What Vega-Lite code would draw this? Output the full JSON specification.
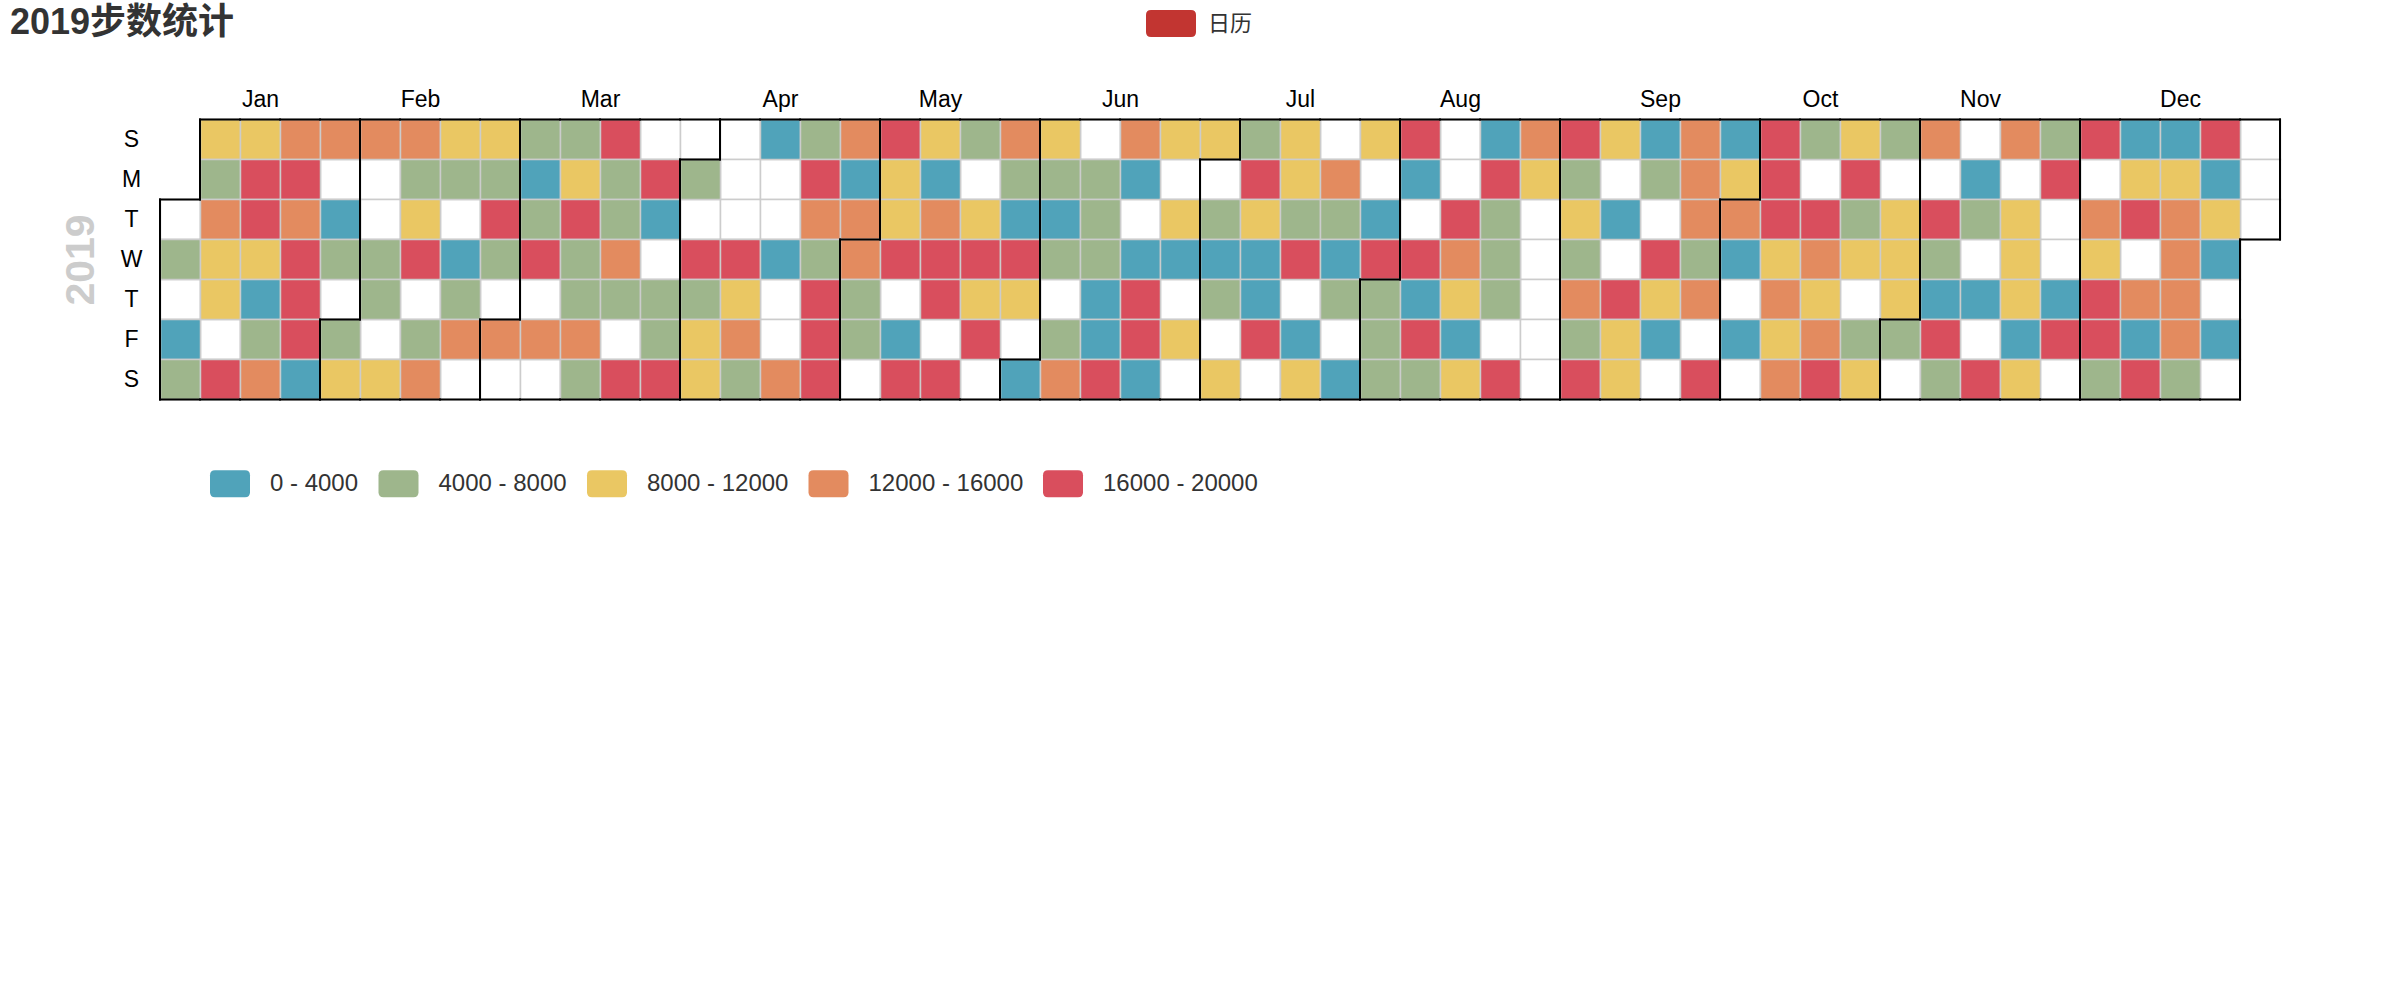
{
  "$schema": "https://vega.github.io/schema/vega-lite/v6.json",
  "autosize": {"type": "none"},
  "width": 2120,
  "height": 280,
  "padding": {"left": 160, "top": 119.5, "right": 120, "bottom": 600.5},
  "background": "white",
  "title": {
    "text": "2019步数统计",
    "anchor": "start",
    "frame": "group",
    "font": "Liberation Sans, Noto Sans CJK SC",
    "fontSize": 36,
    "fontWeight": "bold",
    "color": "#333",
    "dx": -150,
    "offset": 0,
    "dy": 43
  },
  "config": {"view": {"stroke": null}},
  "data": {
    "values": [
      {"date": "2019-01-01"}, {"date": "2019-01-02", "steps": 5420}, {"date": "2019-01-03"}, {"date": "2019-01-04", "steps": 2310}, {"date": "2019-01-05", "steps": 6880},
      {"date": "2019-01-06", "steps": 9340}, {"date": "2019-01-07", "steps": 4370}, {"date": "2019-01-08", "steps": 13250}, {"date": "2019-01-09", "steps": 10870}, {"date": "2019-01-10", "steps": 8460}, {"date": "2019-01-11"}, {"date": "2019-01-12", "steps": 17360},
      {"date": "2019-01-13", "steps": 11520}, {"date": "2019-01-14", "steps": 18920}, {"date": "2019-01-15", "steps": 16480}, {"date": "2019-01-16", "steps": 9910}, {"date": "2019-01-17", "steps": 1180}, {"date": "2019-01-18", "steps": 7510}, {"date": "2019-01-19", "steps": 14780},
      {"date": "2019-01-20", "steps": 12410}, {"date": "2019-01-21", "steps": 19540}, {"date": "2019-01-22", "steps": 15560}, {"date": "2019-01-23", "steps": 17810}, {"date": "2019-01-24", "steps": 16970}, {"date": "2019-01-25", "steps": 19130}, {"date": "2019-01-26", "steps": 3450},
      {"date": "2019-01-27", "steps": 13890}, {"date": "2019-01-28"}, {"date": "2019-01-29", "steps": 2760}, {"date": "2019-01-30", "steps": 6120}, {"date": "2019-01-31"},
      {"date": "2019-02-01", "steps": 4890}, {"date": "2019-02-02", "steps": 8830}, {"date": "2019-02-03", "steps": 12960}, {"date": "2019-02-04"}, {"date": "2019-02-05"}, {"date": "2019-02-06", "steps": 7240}, {"date": "2019-02-07", "steps": 5730},
      {"date": "2019-02-08"}, {"date": "2019-02-09", "steps": 11140}, {"date": "2019-02-10", "steps": 15120}, {"date": "2019-02-11", "steps": 5420}, {"date": "2019-02-12", "steps": 10260}, {"date": "2019-02-13", "steps": 18240}, {"date": "2019-02-14"},
      {"date": "2019-02-15", "steps": 6880}, {"date": "2019-02-16", "steps": 14330}, {"date": "2019-02-17", "steps": 9340}, {"date": "2019-02-18", "steps": 4370}, {"date": "2019-02-19"}, {"date": "2019-02-20", "steps": 640}, {"date": "2019-02-21", "steps": 7510},
      {"date": "2019-02-22", "steps": 13250}, {"date": "2019-02-23"}, {"date": "2019-02-24", "steps": 10870}, {"date": "2019-02-25", "steps": 6120}, {"date": "2019-02-26", "steps": 17360}, {"date": "2019-02-27", "steps": 4890}, {"date": "2019-02-28"},
      {"date": "2019-03-01", "steps": 14780}, {"date": "2019-03-02"}, {"date": "2019-03-03", "steps": 7240}, {"date": "2019-03-04", "steps": 3020}, {"date": "2019-03-05", "steps": 5730}, {"date": "2019-03-06", "steps": 18920}, {"date": "2019-03-07"},
      {"date": "2019-03-08", "steps": 12410}, {"date": "2019-03-09"}, {"date": "2019-03-10", "steps": 5420}, {"date": "2019-03-11", "steps": 8460}, {"date": "2019-03-12", "steps": 16480}, {"date": "2019-03-13", "steps": 6880}, {"date": "2019-03-14", "steps": 4370},
      {"date": "2019-03-15", "steps": 15560}, {"date": "2019-03-16", "steps": 7510}, {"date": "2019-03-17", "steps": 19540}, {"date": "2019-03-18", "steps": 6120}, {"date": "2019-03-19", "steps": 4890}, {"date": "2019-03-20", "steps": 13890}, {"date": "2019-03-21", "steps": 7240},
      {"date": "2019-03-22"}, {"date": "2019-03-23", "steps": 17810}, {"date": "2019-03-24"}, {"date": "2019-03-25", "steps": 16970}, {"date": "2019-03-26", "steps": 1870}, {"date": "2019-03-27"}, {"date": "2019-03-28", "steps": 5730},
      {"date": "2019-03-29", "steps": 5420}, {"date": "2019-03-30", "steps": 19130}, {"date": "2019-03-31"},
      {"date": "2019-04-01", "steps": 6880}, {"date": "2019-04-02"}, {"date": "2019-04-03", "steps": 18240}, {"date": "2019-04-04", "steps": 4370}, {"date": "2019-04-05", "steps": 11520}, {"date": "2019-04-06", "steps": 9910},
      {"date": "2019-04-07"}, {"date": "2019-04-08"}, {"date": "2019-04-09"}, {"date": "2019-04-10", "steps": 17360}, {"date": "2019-04-11", "steps": 8830}, {"date": "2019-04-12", "steps": 12960}, {"date": "2019-04-13", "steps": 7510},
      {"date": "2019-04-14", "steps": 3690}, {"date": "2019-04-15"}, {"date": "2019-04-16"}, {"date": "2019-04-17", "steps": 2310}, {"date": "2019-04-18"}, {"date": "2019-04-19"}, {"date": "2019-04-20", "steps": 15120},
      {"date": "2019-04-21", "steps": 6120}, {"date": "2019-04-22", "steps": 18920}, {"date": "2019-04-23", "steps": 14330}, {"date": "2019-04-24", "steps": 4890}, {"date": "2019-04-25", "steps": 16480}, {"date": "2019-04-26", "steps": 19540}, {"date": "2019-04-27", "steps": 17810},
      {"date": "2019-04-28", "steps": 13250}, {"date": "2019-04-29", "steps": 1180}, {"date": "2019-04-30", "steps": 14780},
      {"date": "2019-05-01", "steps": 12410}, {"date": "2019-05-02", "steps": 7240}, {"date": "2019-05-03", "steps": 5730}, {"date": "2019-05-04"},
      {"date": "2019-05-05", "steps": 16970}, {"date": "2019-05-06", "steps": 11140}, {"date": "2019-05-07", "steps": 10260}, {"date": "2019-05-08", "steps": 19130}, {"date": "2019-05-09"}, {"date": "2019-05-10", "steps": 3450}, {"date": "2019-05-11", "steps": 18240},
      {"date": "2019-05-12", "steps": 9340}, {"date": "2019-05-13", "steps": 2760}, {"date": "2019-05-14", "steps": 15560}, {"date": "2019-05-15", "steps": 17360}, {"date": "2019-05-16", "steps": 18920}, {"date": "2019-05-17"}, {"date": "2019-05-18", "steps": 16480},
      {"date": "2019-05-19", "steps": 5420}, {"date": "2019-05-20"}, {"date": "2019-05-21", "steps": 10870}, {"date": "2019-05-22", "steps": 19540}, {"date": "2019-05-23", "steps": 8460}, {"date": "2019-05-24", "steps": 17810}, {"date": "2019-05-25"},
      {"date": "2019-05-26", "steps": 13890}, {"date": "2019-05-27", "steps": 6880}, {"date": "2019-05-28", "steps": 640}, {"date": "2019-05-29", "steps": 16970}, {"date": "2019-05-30", "steps": 11520}, {"date": "2019-05-31"},
      {"date": "2019-06-01", "steps": 3020}, {"date": "2019-06-02", "steps": 9910}, {"date": "2019-06-03", "steps": 4370}, {"date": "2019-06-04", "steps": 1870}, {"date": "2019-06-05", "steps": 7510}, {"date": "2019-06-06"}, {"date": "2019-06-07", "steps": 6120},
      {"date": "2019-06-08", "steps": 12960}, {"date": "2019-06-09"}, {"date": "2019-06-10", "steps": 4890}, {"date": "2019-06-11", "steps": 7240}, {"date": "2019-06-12", "steps": 5730}, {"date": "2019-06-13", "steps": 3690}, {"date": "2019-06-14", "steps": 2310},
      {"date": "2019-06-15", "steps": 19130}, {"date": "2019-06-16", "steps": 15120}, {"date": "2019-06-17", "steps": 1180}, {"date": "2019-06-18"}, {"date": "2019-06-19", "steps": 3450}, {"date": "2019-06-20", "steps": 18240}, {"date": "2019-06-21", "steps": 17360},
      {"date": "2019-06-22", "steps": 2760}, {"date": "2019-06-23", "steps": 8830}, {"date": "2019-06-24"}, {"date": "2019-06-25", "steps": 11140}, {"date": "2019-06-26", "steps": 640}, {"date": "2019-06-27"}, {"date": "2019-06-28", "steps": 10260},
      {"date": "2019-06-29"}, {"date": "2019-06-30", "steps": 9340},
      {"date": "2019-07-01"}, {"date": "2019-07-02", "steps": 5420}, {"date": "2019-07-03", "steps": 3020}, {"date": "2019-07-04", "steps": 6880}, {"date": "2019-07-05"}, {"date": "2019-07-06", "steps": 10870},
      {"date": "2019-07-07", "steps": 4370}, {"date": "2019-07-08", "steps": 18920}, {"date": "2019-07-09", "steps": 8460}, {"date": "2019-07-10", "steps": 1870}, {"date": "2019-07-11", "steps": 3690}, {"date": "2019-07-12", "steps": 16480}, {"date": "2019-07-13"},
      {"date": "2019-07-14", "steps": 11520}, {"date": "2019-07-15", "steps": 9910}, {"date": "2019-07-16", "steps": 7510}, {"date": "2019-07-17", "steps": 19540}, {"date": "2019-07-18"}, {"date": "2019-07-19", "steps": 2310}, {"date": "2019-07-20", "steps": 8830},
      {"date": "2019-07-21"}, {"date": "2019-07-22", "steps": 14330}, {"date": "2019-07-23", "steps": 6120}, {"date": "2019-07-24", "steps": 1180}, {"date": "2019-07-25", "steps": 4890}, {"date": "2019-07-26"}, {"date": "2019-07-27", "steps": 3450},
      {"date": "2019-07-28", "steps": 11140}, {"date": "2019-07-29"}, {"date": "2019-07-30", "steps": 2760}, {"date": "2019-07-31", "steps": 17810},
      {"date": "2019-08-01", "steps": 7240}, {"date": "2019-08-02", "steps": 5730}, {"date": "2019-08-03", "steps": 5420},
      {"date": "2019-08-04", "steps": 16970}, {"date": "2019-08-05", "steps": 640}, {"date": "2019-08-06"}, {"date": "2019-08-07", "steps": 19130}, {"date": "2019-08-08", "steps": 3020}, {"date": "2019-08-09", "steps": 18240}, {"date": "2019-08-10", "steps": 6880},
      {"date": "2019-08-11"}, {"date": "2019-08-12"}, {"date": "2019-08-13", "steps": 17360}, {"date": "2019-08-14", "steps": 13250}, {"date": "2019-08-15", "steps": 10260}, {"date": "2019-08-16", "steps": 1870}, {"date": "2019-08-17", "steps": 9340},
      {"date": "2019-08-18", "steps": 3690}, {"date": "2019-08-19", "steps": 18920}, {"date": "2019-08-20", "steps": 4370}, {"date": "2019-08-21", "steps": 7510}, {"date": "2019-08-22", "steps": 6120}, {"date": "2019-08-23"}, {"date": "2019-08-24", "steps": 16480},
      {"date": "2019-08-25", "steps": 14780}, {"date": "2019-08-26", "steps": 10870}, {"date": "2019-08-27"}, {"date": "2019-08-28"}, {"date": "2019-08-29"}, {"date": "2019-08-30"}, {"date": "2019-08-31"},
      {"date": "2019-09-01", "steps": 19540}, {"date": "2019-09-02", "steps": 4890}, {"date": "2019-09-03", "steps": 8460}, {"date": "2019-09-04", "steps": 7240}, {"date": "2019-09-05", "steps": 12410}, {"date": "2019-09-06", "steps": 5730}, {"date": "2019-09-07", "steps": 17810},
      {"date": "2019-09-08", "steps": 11520}, {"date": "2019-09-09"}, {"date": "2019-09-10", "steps": 2310}, {"date": "2019-09-11"}, {"date": "2019-09-12", "steps": 16970}, {"date": "2019-09-13", "steps": 9910}, {"date": "2019-09-14", "steps": 8830},
      {"date": "2019-09-15", "steps": 1180}, {"date": "2019-09-16", "steps": 5420}, {"date": "2019-09-17"}, {"date": "2019-09-18", "steps": 19130}, {"date": "2019-09-19", "steps": 11140}, {"date": "2019-09-20", "steps": 3450}, {"date": "2019-09-21"},
      {"date": "2019-09-22", "steps": 15560}, {"date": "2019-09-23", "steps": 13890}, {"date": "2019-09-24", "steps": 12960}, {"date": "2019-09-25", "steps": 6880}, {"date": "2019-09-26", "steps": 15120}, {"date": "2019-09-27"}, {"date": "2019-09-28", "steps": 18240},
      {"date": "2019-09-29", "steps": 2760}, {"date": "2019-09-30", "steps": 10260},
      {"date": "2019-10-01", "steps": 14330}, {"date": "2019-10-02", "steps": 640}, {"date": "2019-10-03"}, {"date": "2019-10-04", "steps": 3020}, {"date": "2019-10-05"},
      {"date": "2019-10-06", "steps": 17360}, {"date": "2019-10-07", "steps": 18920}, {"date": "2019-10-08", "steps": 16480}, {"date": "2019-10-09", "steps": 9340}, {"date": "2019-10-10", "steps": 13250}, {"date": "2019-10-11", "steps": 10870}, {"date": "2019-10-12", "steps": 14780},
      {"date": "2019-10-13", "steps": 4370}, {"date": "2019-10-14"}, {"date": "2019-10-15", "steps": 19540}, {"date": "2019-10-16", "steps": 12410}, {"date": "2019-10-17", "steps": 8460}, {"date": "2019-10-18", "steps": 15560}, {"date": "2019-10-19", "steps": 17810},
      {"date": "2019-10-20", "steps": 11520}, {"date": "2019-10-21", "steps": 16970}, {"date": "2019-10-22", "steps": 7510}, {"date": "2019-10-23", "steps": 9910}, {"date": "2019-10-24"}, {"date": "2019-10-25", "steps": 6120}, {"date": "2019-10-26", "steps": 8830},
      {"date": "2019-10-27", "steps": 4890}, {"date": "2019-10-28"}, {"date": "2019-10-29", "steps": 11140}, {"date": "2019-10-30", "steps": 10260}, {"date": "2019-10-31", "steps": 9340},
      {"date": "2019-11-01", "steps": 7240}, {"date": "2019-11-02"},
      {"date": "2019-11-03", "steps": 13890}, {"date": "2019-11-04"}, {"date": "2019-11-05", "steps": 19130}, {"date": "2019-11-06", "steps": 5730}, {"date": "2019-11-07", "steps": 1870}, {"date": "2019-11-08", "steps": 18240}, {"date": "2019-11-09", "steps": 5420},
      {"date": "2019-11-10"}, {"date": "2019-11-11", "steps": 3690}, {"date": "2019-11-12", "steps": 6880}, {"date": "2019-11-13"}, {"date": "2019-11-14", "steps": 2310}, {"date": "2019-11-15"}, {"date": "2019-11-16", "steps": 17360},
      {"date": "2019-11-17", "steps": 12960}, {"date": "2019-11-18"}, {"date": "2019-11-19", "steps": 10870}, {"date": "2019-11-20", "steps": 8460}, {"date": "2019-11-21", "steps": 11520}, {"date": "2019-11-22", "steps": 1180}, {"date": "2019-11-23", "steps": 9910},
      {"date": "2019-11-24", "steps": 4370}, {"date": "2019-11-25", "steps": 18920}, {"date": "2019-11-26"}, {"date": "2019-11-27"}, {"date": "2019-11-28", "steps": 3450}, {"date": "2019-11-29", "steps": 16480}, {"date": "2019-11-30"},
      {"date": "2019-12-01", "steps": 19540}, {"date": "2019-12-02"}, {"date": "2019-12-03", "steps": 15120}, {"date": "2019-12-04", "steps": 8830}, {"date": "2019-12-05", "steps": 17810}, {"date": "2019-12-06", "steps": 16970}, {"date": "2019-12-07", "steps": 7510},
      {"date": "2019-12-08", "steps": 2760}, {"date": "2019-12-09", "steps": 11140}, {"date": "2019-12-10", "steps": 19130}, {"date": "2019-12-11"}, {"date": "2019-12-12", "steps": 14330}, {"date": "2019-12-13", "steps": 640}, {"date": "2019-12-14", "steps": 18240},
      {"date": "2019-12-15", "steps": 3020}, {"date": "2019-12-16", "steps": 10260}, {"date": "2019-12-17", "steps": 13250}, {"date": "2019-12-18", "steps": 14780}, {"date": "2019-12-19", "steps": 12410}, {"date": "2019-12-20", "steps": 15560}, {"date": "2019-12-21", "steps": 6120},
      {"date": "2019-12-22", "steps": 17360}, {"date": "2019-12-23", "steps": 1870}, {"date": "2019-12-24", "steps": 9340}, {"date": "2019-12-25", "steps": 3690}, {"date": "2019-12-26"}, {"date": "2019-12-27", "steps": 2310}, {"date": "2019-12-28"},
      {"date": "2019-12-29"}, {"date": "2019-12-30"}, {"date": "2019-12-31"}
    ]
  },
  "layer": [
    {
      "mark": {"type": "rect", "fill": "white", "stroke": "#cccccc", "strokeWidth": 1.5},
      "encoding": {
        "x": {
          "field": "date", "timeUnit": "utcyearweek", "type": "temporal",
          "scale": {"domain": [{"year": 2018, "month": 12, "date": 30, "utc": true}, {"year": 2020, "month": 1, "date": 5, "utc": true}], "nice": false, "padding": 0},
          "axis": {
            "orient": "top", "title": null, "domain": false, "ticks": false, "tickSize": 0, "grid": false,
            "values": [
              {"year": 2019, "month": 1, "date": 16, "hours": 12, "utc": true},
              {"year": 2019, "month": 2, "date": 13, "hours": 12, "utc": true},
              {"year": 2019, "month": 3, "date": 17, "hours": 0, "utc": true},
              {"year": 2019, "month": 4, "date": 17, "hours": 12, "utc": true},
              {"year": 2019, "month": 5, "date": 15, "hours": 12, "utc": true},
              {"year": 2019, "month": 6, "date": 16, "hours": 0, "utc": true},
              {"year": 2019, "month": 7, "date": 17, "hours": 12, "utc": true},
              {"year": 2019, "month": 8, "date": 14, "hours": 12, "utc": true},
              {"year": 2019, "month": 9, "date": 18, "hours": 12, "utc": true},
              {"year": 2019, "month": 10, "date": 16, "hours": 12, "utc": true},
              {"year": 2019, "month": 11, "date": 13, "hours": 12, "utc": true},
              {"year": 2019, "month": 12, "date": 18, "hours": 12, "utc": true}
            ],
            "labelExpr": "utcFormat(datum.value, '%b')",
            "labelFont": "Liberation Sans", "labelFontSize": 23, "labelColor": "#000",
            "labelPadding": 13.5, "labelBaseline": "alphabetic", "labelAngle": 0, "labelAlign": "center",
            "labelFlush": false, "labelOverlap": false
          }
        },
        "y": {
          "field": "date", "timeUnit": "utcday", "type": "ordinal",
          "scale": {"paddingInner": 0, "paddingOuter": 0},
          "axis": {
            "title": "2019", "titleFont": "Liberation Sans", "titleFontSize": 41, "titleFontWeight": "bold", "titleColor": "#cccccc", "titlePadding": 18,
            "domain": false, "ticks": false, "tickSize": 0, "grid": false,
            "labelExpr": "substring(datum.label, 0, 1)",
            "labelFont": "Liberation Sans", "labelFontSize": 23, "labelColor": "#000",
            "labelAlign": "center", "labelBaseline": "middle", "labelPadding": 29
          }
        }
      }
    },
    {
      "transform": [{"filter": "isValid(datum.steps)"}],
      "mark": {"type": "rect", "stroke": "#cccccc", "strokeWidth": 1.5, "opacity": 1},
      "encoding": {
        "x": {"field": "date", "timeUnit": "utcyearweek", "type": "temporal"},
        "y": {"field": "date", "timeUnit": "utcday", "type": "ordinal"},
        "color": {
          "field": "steps", "type": "ordinal",
          "bin": {"extent": [0, 20000], "step": 4000},
          "scale": {"range": ["#50a3ba", "#9eb68c", "#eac763", "#e38b5f", "#d94e5d"]},
          "legend": {
            "orient": "none", "direction": "horizontal", "legendX": 50, "legendY": 344, "title": null,
            "symbolType": "M-0.75,-0.675L0.75,-0.675Q1,-0.675 1,-0.425L1,0.425Q1,0.675 0.75,0.675L-0.75,0.675Q-1,0.675 -1,0.425L-1,-0.425Q-1,-0.675 -0.75,-0.675Z",
            "symbolSize": 1600, "symbolStrokeWidth": 0, "symbolOpacity": 1, "symbolStrokeColor": "transparent",
            "labelFont": "Liberation Sans", "labelFontSize": 24, "labelColor": "#333", "labelOffset": 20, "columnPadding": 19.5,
            "labelExpr": "parseFloat(replace(datum.label, ',', '')) + ' - ' + (parseFloat(replace(datum.label, ',', '')) + 4000)"
          }
        }
      }
    },
    {
      "transform": [{"filter": "false"}],
      "mark": {"type": "rect", "opacity": 1},
      "encoding": {
        "x": {"field": "date", "timeUnit": "utcyearweek", "type": "temporal"},
        "y": {"field": "date", "timeUnit": "utcday", "type": "ordinal"},
        "fill": {
          "datum": "日历", "type": "nominal",
          "scale": {"range": ["#c23531"]},
          "legend": {
            "orient": "none", "legendX": 986, "legendY": -121, "title": null,
            "symbolType": "M-0.8,-0.54L0.8,-0.54Q1,-0.54 1,-0.34L1,0.34Q1,0.54 0.8,0.54L-0.8,0.54Q-1,0.54 -1,0.34L-1,-0.34Q-1,-0.54 -0.8,-0.54Z",
            "symbolSize": 2500, "symbolStrokeWidth": 0, "symbolOpacity": 1, "symbolStrokeColor": "transparent",
            "labelFont": "Noto Sans CJK SC", "labelFontSize": 22, "labelColor": "#333", "labelOffset": 12
          }
        }
      }
    },
    {
      "transform": [{"filter": "utcdate(datum.date) <= 7"}],
      "mark": {"type": "tick", "orient": "vertical", "color": "#000", "opacity": 1, "size": 42, "thickness": 2},
      "encoding": {
        "x": {"field": "date", "timeUnit": "utcyearweek", "type": "temporal", "bandPosition": 0},
        "y": {"field": "date", "timeUnit": "utcday", "type": "ordinal"}
      }
    },
    {
      "transform": [{"filter": "utcmonth(datum.date) == 11 && utcdate(datum.date) >= 25"}],
      "mark": {"type": "tick", "orient": "vertical", "color": "#000", "opacity": 1, "size": 42, "thickness": 2},
      "encoding": {
        "x": {"field": "date", "timeUnit": "utcyearweek", "type": "temporal", "bandPosition": 1},
        "y": {"field": "date", "timeUnit": "utcday", "type": "ordinal"}
      }
    },
    {
      "transform": [{"filter": "utcday(datum.date) == 0 || utcdate(datum.date) == 1"}],
      "mark": {"type": "tick", "orient": "horizontal", "color": "#000", "opacity": 1, "size": 42, "thickness": 2},
      "encoding": {
        "x": {"field": "date", "timeUnit": "utcyearweek", "type": "temporal", "bandPosition": 0.5},
        "y": {"field": "date", "timeUnit": "utcday", "type": "ordinal", "bandPosition": 0}
      }
    },
    {
      "transform": [{"filter": "utcday(datum.date) == 6 || (utcmonth(datum.date) == 11 && utcdate(datum.date) == 31)"}],
      "mark": {"type": "tick", "orient": "horizontal", "color": "#000", "opacity": 1, "size": 42, "thickness": 2},
      "encoding": {
        "x": {"field": "date", "timeUnit": "utcyearweek", "type": "temporal", "bandPosition": 0.5},
        "y": {"field": "date", "timeUnit": "utcday", "type": "ordinal", "bandPosition": 1}
      }
    }
  ]
}
